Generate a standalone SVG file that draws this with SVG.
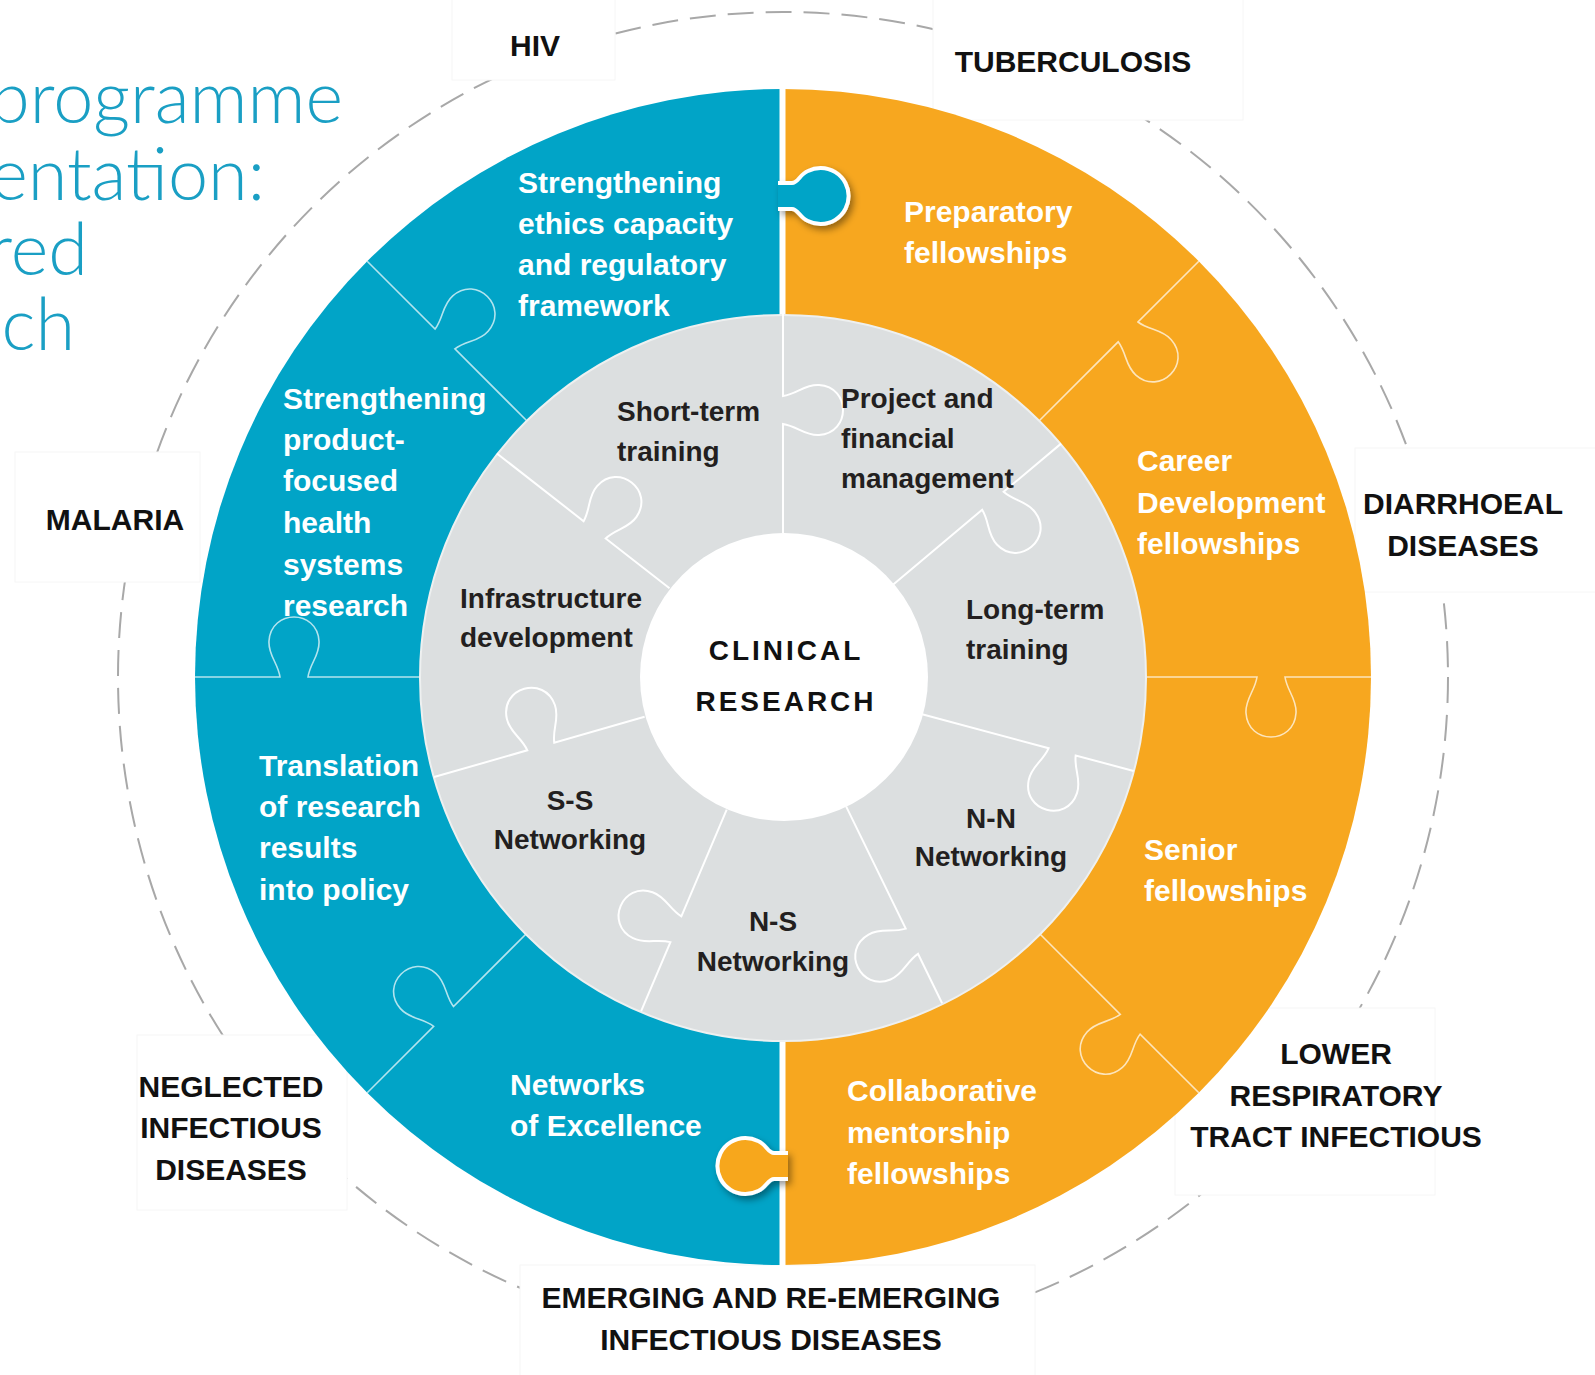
<svg xmlns="http://www.w3.org/2000/svg" width="1595" height="1375" viewBox="0 0 1595 1375">
<style>
.title{font-family:"Lato","Liberation Sans",sans-serif;font-weight:300;font-size:72px;fill:#1a9fc4}
.lbl{font-family:"Liberation Sans",Arial,sans-serif;font-weight:bold;font-size:30px;fill:#111}
.wt{font-family:"Liberation Sans",Arial,sans-serif;font-weight:bold;font-size:30px;fill:#fff}
.gt{font-family:"Liberation Sans",Arial,sans-serif;font-weight:bold;font-size:28px;fill:#231f20}
.ct{font-family:"Liberation Sans",Arial,sans-serif;font-weight:bold;font-size:28px;fill:#111;letter-spacing:3px}
.box{fill:#fff;stroke:#f6f6f6;stroke-width:1}
.ol{fill:none;stroke:#fff;stroke-opacity:0.7;stroke-width:1.6}
.il{fill:none;stroke:#fff;stroke-width:2}
.tab{stroke:#fff;stroke-width:4;filter:url(#sh)}
</style>
<defs>
<filter id="sh" x="-40%" y="-40%" width="180%" height="180%">
<feDropShadow dx="3" dy="4" stdDeviation="3.5" flood-color="#000" flood-opacity="0.4"/>
</filter>
</defs>
<rect width="1595" height="1375" fill="#fff"/>

<g id="title">
<text class="title" x="343" y="123" text-anchor="end">programme</text>
<text class="title" x="265" y="200" text-anchor="end">entation:</text>
<text class="title" x="88" y="275" text-anchor="end">red</text>
<text class="title" x="75" y="350" text-anchor="end">ch</text>
</g>

<circle id="outer-dashed" cx="783" cy="677" r="665" fill="none" stroke="#a8a8a8" stroke-width="2" stroke-dasharray="26 12"/>

<g id="hiv"><rect class="box" x="452" y="-5" width="163" height="85"/><text class="lbl" x="535" y="56" text-anchor="middle">HIV</text></g>
<g id="tuberculosis"><rect class="box" x="933" y="-5" width="310" height="125"/><text class="lbl" x="1073" y="72" text-anchor="middle">TUBERCULOSIS</text></g>
<g id="diarrhoeal"><rect class="box" x="1355" y="448" width="245" height="144"/><text class="lbl" x="1463" y="514" text-anchor="middle">DIARRHOEAL</text><text class="lbl" x="1463" y="556" text-anchor="middle">DISEASES</text></g>
<g id="malaria"><rect class="box" x="15" y="452" width="185" height="130"/><text class="lbl" x="115" y="530" text-anchor="middle">MALARIA</text></g>
<g id="neglected"><rect class="box" x="137" y="1035" width="210" height="175"/><text class="lbl" x="231" y="1097" text-anchor="middle">NEGLECTED</text><text class="lbl" x="231" y="1138" text-anchor="middle">INFECTIOUS</text><text class="lbl" x="231" y="1180" text-anchor="middle">DISEASES</text></g>
<g id="lower-respiratory"><rect class="box" x="1175" y="1008" width="260" height="187"/><text class="lbl" x="1336" y="1064" text-anchor="middle">LOWER</text><text class="lbl" x="1336" y="1106" text-anchor="middle">RESPIRATORY</text><text class="lbl" x="1336" y="1147" text-anchor="middle">TRACT INFECTIOUS</text></g>
<g id="emerging"><rect class="box" x="520" y="1265" width="515" height="115"/><text class="lbl" x="771" y="1308" text-anchor="middle">EMERGING AND RE-EMERGING</text><text class="lbl" x="771" y="1350" text-anchor="middle">INFECTIOUS DISEASES</text></g>

<g id="ring">
<path d="M783,89 A588,588 0 0 0 783,1265 Z" fill="#01a4c7"/>
<path d="M783,89 A588,588 0 0 1 783,1265 Z" fill="#f7a71f"/>
<line x1="782.5" y1="85" x2="782.5" y2="1270" stroke="#fff" stroke-width="6"/>
</g>

<g id="connectors">
<path class="ol" transform="translate(526.3,420.3) rotate(-135)" d="M0,0 H101 C99,14 89,22 90,36 C91,52 103,60 115,60 C127,60 139,52 140,36 C141,22 131,14 129,0 H225"/>
<path class="ol" transform="translate(420,677) rotate(180)" d="M0,0 H112 C110,14 100,22 101,36 C102,52 114,60 126,60 C138,60 150,52 151,36 C152,22 142,14 140,0 H225"/>
<path class="ol" transform="translate(526.3,933.7) rotate(135)" d="M0,0 H103 C101,14 91,22 92,36 C93,52 105,60 117,60 C129,60 141,52 142,36 C143,22 133,14 131,0 H225"/>
<path class="ol" transform="translate(1039.7,420.3) rotate(-45)" d="M0,0 H111 C109,14 99,22 100,36 C101,52 113,60 125,60 C137,60 149,52 150,36 C151,22 141,14 139,0 H225"/>
<path class="ol" transform="translate(1146,677)" d="M0,0 H111 C109,14 99,22 100,36 C101,52 113,60 125,60 C137,60 149,52 150,36 C151,22 141,14 139,0 H225"/>
<path class="ol" transform="translate(1039.7,933.7) rotate(45)" d="M0,0 H114 C112,14 102,22 103,36 C104,52 116,60 128,60 C140,60 152,52 153,36 C154,22 144,14 142,0 H225"/>
</g>

<circle id="gray-disc" cx="783" cy="678" r="363" fill="#dcdfe0" stroke="#eef0f0" stroke-width="2"/>

<g id="inner-connectors">
<path class="il" transform="translate(783,533) rotate(-90)" d="M0,0 H109 C107,14 97,22 98,36 C99,52 111,60 123,60 C135,60 147,52 148,36 C149,22 139,14 137,0 H219"/>
<path class="il" transform="translate(669.5,588.3) rotate(-142)" d="M0,0 H81 C79,14 69,22 70,36 C71,52 83,60 95,60 C107,60 119,52 120,36 C121,22 111,14 109,0 H219"/>
<path class="il" transform="translate(893.3,584.4) rotate(-40)" d="M0,0 H116 C114,14 104,22 105,36 C106,52 118,60 130,60 C142,60 154,52 155,36 C156,22 146,14 144,0 H219"/>
<path class="il" transform="translate(644.6,716.7) rotate(164)" d="M0,0 H94 C92,14 82,22 83,36 C84,52 96,60 108,60 C120,60 132,52 133,36 C134,22 124,14 122,0 H219"/>
<path class="il" transform="translate(922.1,714.3) rotate(15)" d="M0,0 H131 C129,14 119,22 120,36 C121,52 133,60 145,60 C157,60 169,52 170,36 C171,22 161,14 159,0 H219"/>
<path class="il" transform="translate(726.7,809.6) rotate(113)" d="M0,0 H116 C114,14 104,22 105,36 C106,52 118,60 130,60 C142,60 154,52 155,36 C156,22 146,14 144,0 H219"/>
<path class="il" transform="translate(846.1,806.4) rotate(64)" d="M0,0 H136 C134,14 124,22 125,36 C126,52 138,60 150,60 C162,60 174,52 175,36 C176,22 166,14 164,0 H219"/>
</g>

<g id="clinical-research">
<circle cx="784" cy="677" r="144" fill="#fff"/>
<text class="ct" x="786" y="660" text-anchor="middle">CLINICAL</text>
<text class="ct" x="786" y="711" text-anchor="middle">RESEARCH</text>
</g>

<g id="tab-top"><path class="tab" fill="#01a4c7" d="M778,183 L792,183 C798,183 800,174 808,171 A28,28 0 1 1 808,221 C800,218 798,209 792,209 L778,209"/></g>
<g id="tab-bottom"><path class="tab" fill="#f7a71f" d="M788,1153 L774,1153 C768,1153 766,1144 758,1141 A28,28 0 1 0 758,1191 C766,1188 768,1179 774,1179 L788,1179"/></g>

<g id="ethics"><text class="wt" x="518" y="193">Strengthening</text><text class="wt" x="518" y="234">ethics capacity</text><text class="wt" x="518" y="275">and regulatory</text><text class="wt" x="518" y="316">framework</text></g>
<g id="preparatory"><text class="wt" x="904" y="222">Preparatory</text><text class="wt" x="904" y="263">fellowships</text></g>
<g id="product"><text class="wt" x="283" y="409">Strengthening</text><text class="wt" x="283" y="450">product-</text><text class="wt" x="283" y="491">focused</text><text class="wt" x="283" y="533">health</text><text class="wt" x="283" y="575">systems</text><text class="wt" x="283" y="616">research</text></g>
<g id="career"><text class="wt" x="1137" y="471">Career</text><text class="wt" x="1137" y="513">Development</text><text class="wt" x="1137" y="554">fellowships</text></g>
<g id="translation"><text class="wt" x="259" y="776">Translation</text><text class="wt" x="259" y="817">of research</text><text class="wt" x="259" y="858">results</text><text class="wt" x="259" y="900">into policy</text></g>
<g id="senior"><text class="wt" x="1144" y="860">Senior</text><text class="wt" x="1144" y="901">fellowships</text></g>
<g id="networks-excellence"><text class="wt" x="510" y="1095">Networks</text><text class="wt" x="510" y="1136">of Excellence</text></g>
<g id="collaborative"><text class="wt" x="847" y="1101">Collaborative</text><text class="wt" x="847" y="1143">mentorship</text><text class="wt" x="847" y="1184">fellowships</text></g>

<g id="short-term"><text class="gt" x="617" y="421">Short-term</text><text class="gt" x="617" y="461">training</text></g>
<g id="project"><text class="gt" x="841" y="408">Project and</text><text class="gt" x="841" y="448">financial</text><text class="gt" x="841" y="488">management</text></g>
<g id="infrastructure"><text class="gt" x="460" y="608">Infrastructure</text><text class="gt" x="460" y="647">development</text></g>
<g id="long-term"><text class="gt" x="966" y="619">Long-term</text><text class="gt" x="966" y="659">training</text></g>
<g id="ss"><text class="gt" x="570" y="810" text-anchor="middle">S-S</text><text class="gt" x="570" y="849" text-anchor="middle">Networking</text></g>
<g id="nn"><text class="gt" x="991" y="828" text-anchor="middle">N-N</text><text class="gt" x="991" y="866" text-anchor="middle">Networking</text></g>
<g id="ns"><text class="gt" x="773" y="931" text-anchor="middle">N-S</text><text class="gt" x="773" y="971" text-anchor="middle">Networking</text></g>
</svg>
